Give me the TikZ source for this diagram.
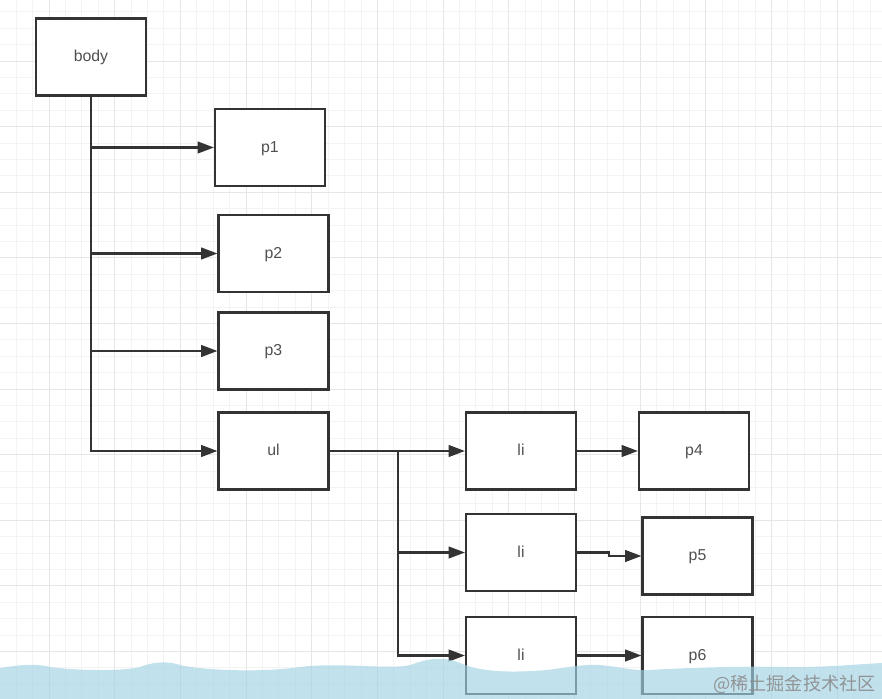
\documentclass[tikz,border=0pt]{standalone}
\usepackage{fontspec}
\setmainfont{Liberation Sans}
\newfontfamily\cjk{Noto Sans CJK SC}
\usetikzlibrary{arrows.meta}
\definecolor{boxline}{RGB}{51,51,51}
\definecolor{boxtext}{RGB}{80,80,80}
\definecolor{gridminor}{RGB}{243,243,243}
\definecolor{gridmajor}{RGB}{230,230,230}
\definecolor{waveblue}{RGB}{160,210,228}

\begin{document}
\begin{tikzpicture}[x=0.03cm, y=-0.03cm,
    box/.style={draw=boxline, line width=1.8pt, fill=white, minimum width=3.3cm,
      minimum height=2.31cm, inner sep=0pt, text=boxtext, text height=0.9em, text depth=0.13em,
      font=\fontsize{13.5}{16}\selectfont},
    link/.style={draw=boxline, line width=1.8pt, -{Triangle[length=14pt, width=10pt]}}]
		%%%%% START %%%%%
		\useasboundingbox (0,0) rectangle (882,699);
		\fill[white] (0,0) rectangle (882,699);
		
		% grid
		\foreach \gx in {16.12,32.54,...,882} \draw[gridminor, line width=0.7pt] (\gx,0) -- (\gx,699);
		\foreach \gy in {11.8,28.2,...,699} \draw[gridminor, line width=0.7pt] (0,\gy) -- (882,\gy);
		\foreach \gx in {49,114.68,...,882} \draw[gridmajor, line width=0.8pt] (\gx,0) -- (\gx,699);
		\foreach \gy in {61,126.6,...,699} \draw[gridmajor, line width=0.8pt] (0,\gy) -- (882,\gy);
		
		% boxes
		\node[box] (body) at (91,57) {body};
		\node[box] (p1) at (270,147.5) {p1};
		\node[box] (p2) at (273.5,253.5) {p2};
		\node[box] (p3) at (273.5,351) {p3};
		\node[box] (ul) at (273.5,451) {ul};
		\node[box] (li1) at (521,451) {li};
		\node[box] (p4) at (694,451) {p4};
		\node[box] (li2) at (521,552.5) {li};
		\node[box] (p5) at (697.5,556) {p5};
		\node[box] (li3) at (521,655.5) {li};
		\node[box] (p6) at (697.5,655.5) {p6};
		
		% links
		\draw[link] (body.south) |- (p1.west);
		\draw[link] (body.south) |- (p2.west);
		\draw[link] (body.south) |- (p3.west);
		\draw[link] (body.south) |- (ul.west);
		
		\coordinate (split) at (398,451);
		\draw[link] (ul.east) -- (li1.west);
		\draw[link] (ul.east) -- (split) |- (li2.west);
		\draw[link] (ul.east) -- (split) |- (li3.west);
		
		\draw[link] (li1.east) -- (p4.west);
		\draw[link] (li2.east) -- ++(32,0) |- (p5.west);
		\draw[link] (li3.east) -- (p6.west);
		
		% watermark band
		\fill[waveblue, opacity=0.65] (0,668) .. controls (20,665) and (35,663) .. (50,667)
		  .. controls (70,670) and (120,672) .. (140,667)
		  .. controls (150,663) and (165,660) .. (180,665)
		  .. controls (200,670) and (260,673) .. (300,667)
		  .. controls (340,662) and (390,670) .. (410,665)
		  .. controls (425,660) and (440,655) .. (460,663)
		  .. controls (480,672) and (510,673) .. (547,670)
		  .. controls (570,667) and (585,664) .. (600,665)
		  .. controls (620,667) and (635,671) .. (650,670)
		  .. controls (680,668) and (740,666) .. (780,667)
		  .. controls (820,668) and (860,664) .. (882,663)
		  -- (882,699) -- (0,699) -- cycle;
		\node[anchor=east, inner sep=0pt, text=black!45, opacity=0.9,
		  font=\cjk\fontsize{15.5}{18}\selectfont] (mark) at (876,684) {@稀土掘金技术社区};
		%%%%% END %%%%%
\end{tikzpicture}
\end{document}
